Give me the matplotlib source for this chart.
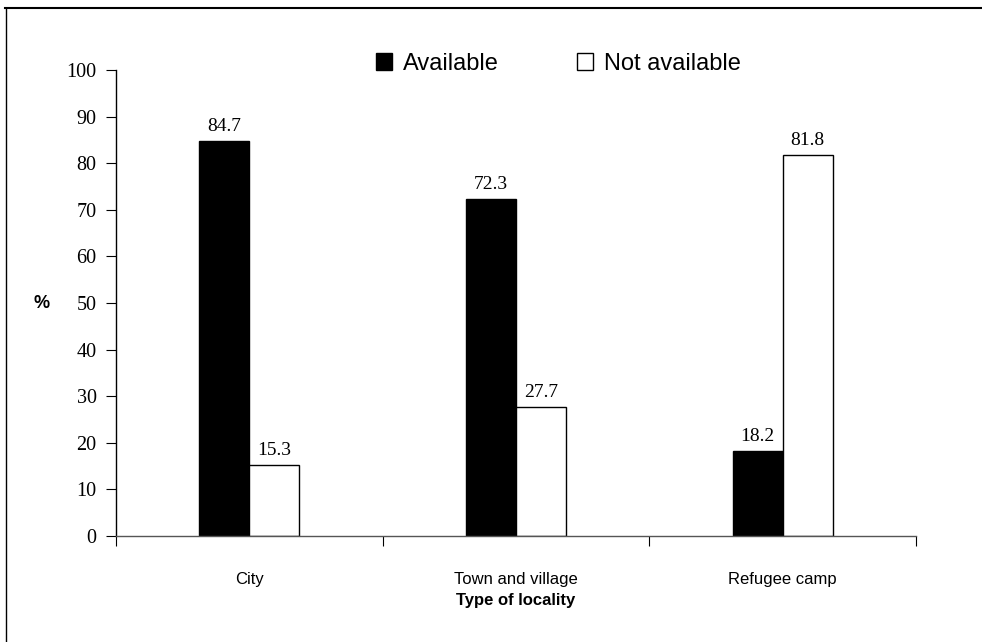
import numpy as np
import matplotlib
matplotlib.use('Agg')
import matplotlib.pyplot as plt
from matplotlib.lines import Line2D

# Availability by type of locality (%)
localities = ['City', 'Town and village', 'Refugee camp']
available = [84.7, 72.3, 18.2]
not_available = [15.3, 27.7, 81.8]

fig = plt.figure(figsize=(9.82, 6.42), dpi=100)
# plot area: y=0 at 536 px, y=100 at 70 px from the top
ax = fig.add_axes([0.1181, 0.165, 0.8147, 0.726])

x = np.arange(len(localities))
width = 0.187
b1 = ax.bar(x - width / 2, available, width, color='black',
            edgecolor='black', linewidth=1, label='Available')
b2 = ax.bar(x + width / 2, not_available, width, color='white',
            edgecolor='black', linewidth=1, label='Not available')

for bars in (b1, b2):
    for rect in bars:
        h = rect.get_height()
        ax.text(rect.get_x() + rect.get_width() / 2, h + 1.3, f'{h:.1f}',
                ha='center', va='bottom', family='Liberation Serif',
                fontsize=14)

ax.set_xlim(-0.5, len(localities) - 0.5)
ax.set_ylim(0, 100)
ax.set_yticks(np.arange(0, 101, 10))
ax.set_yticklabels([str(v) for v in range(0, 101, 10)],
                   family='Liberation Serif', fontsize=14.5)
ax.tick_params(axis='y', direction='out', length=7, pad=7, width=0.8)

# category labels centred under groups, ticks at group boundaries
ax.set_xticks(np.arange(-0.5, len(localities), 1.0))
ax.set_xticklabels([])
ax.tick_params(axis='x', direction='out', length=7, width=0.8)
for xi, name in zip(x, localities):
    ax.text(xi, -9.4, name, ha='center', va='center',
            family='Liberation Sans', fontsize=12)
ax.text(1, -13.8, 'Type of locality', ha='center', va='center',
        family='Liberation Sans', fontsize=12, fontweight='bold')
ax.text(-0.78, 50, '%', ha='center', va='center', family='Liberation Sans',
        fontsize=13, fontweight='bold', clip_on=False)

for side in ('top', 'right'):
    ax.spines[side].set_visible(False)
ax.spines['left'].set_linewidth(1.0)
ax.spines['bottom'].set_linewidth(1.0)
ax.spines['bottom'].set_color('#555555')

leg = ax.legend(loc='center', bbox_to_anchor=(0.553, 1.013), ncol=2,
                frameon=False, prop={'family': 'Liberation Sans', 'size': 17},
                handlelength=0.7, handleheight=0.7, handletextpad=0.45,
                columnspacing=3.3, borderpad=0)

# figure border (top and left)
fig.add_artist(Line2D([0.005, 1.0], [0.987, 0.987], color='black', lw=1.5))
fig.add_artist(Line2D([0.006, 0.006], [0.0, 0.987], color='black', lw=1.0))

fig.savefig('out.png', dpi=100)
